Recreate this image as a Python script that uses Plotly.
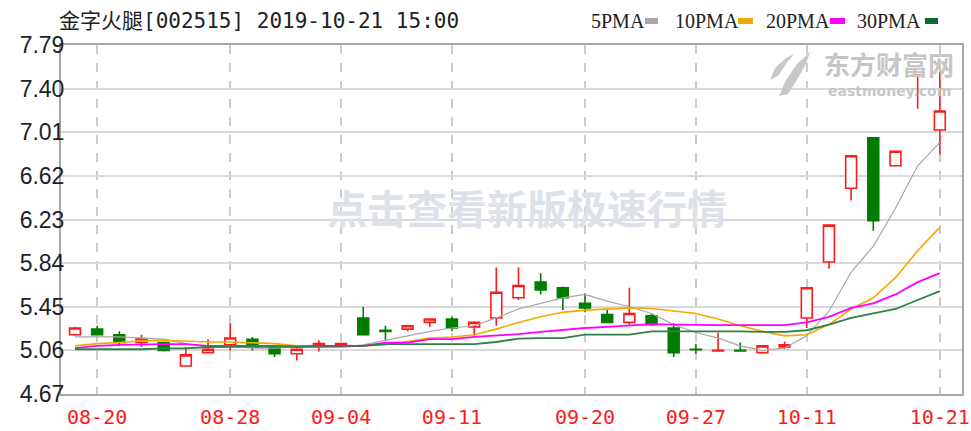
import plotly.graph_objects as go

dates = ["08-19","08-20","08-21","08-22","08-23","08-26","08-27","08-28","08-29","08-30",
         "09-02","09-03","09-04","09-05","09-06","09-09","09-10","09-11","09-12","09-16",
         "09-17","09-18","09-19","09-20","09-23","09-24","09-25","09-26","09-27","09-30",
         "10-08","10-09","10-10","10-11","10-14","10-15","10-16","10-17","10-18","10-21"]

opens  = [5.20,5.25,5.20,5.13,5.13,4.92,5.04,5.11,5.16,5.09,
          5.03,5.10,5.10,5.35,5.24,5.25,5.31,5.34,5.27,5.35,
          5.53,5.67,5.62,5.48,5.38,5.31,5.37,5.26,5.07,5.055,
          5.06,5.04,5.09,5.35,5.85,6.51,6.96,6.71,7.515,7.03]
highs  = [5.27,5.28,5.23,5.20,5.13,5.09,5.16,5.30,5.18,5.09,
          5.08,5.15,5.12,5.45,5.28,5.28,5.34,5.36,5.32,5.80,
          5.80,5.75,5.63,5.57,5.42,5.62,5.39,5.30,5.12,5.22,
          5.13,5.10,5.14,5.62,6.18,6.80,6.96,6.84,7.52,7.55]
lows   = [5.19,5.20,5.10,5.09,5.05,4.92,5.04,5.06,5.06,5.00,
          4.97,5.05,5.10,5.20,5.15,5.23,5.27,5.23,5.19,5.28,
          5.51,5.56,5.42,5.40,5.31,5.29,5.28,5.00,5.03,5.05,
          5.055,5.03,5.07,5.26,5.79,6.40,6.13,6.71,7.22,6.81]
closes = [5.26,5.20,5.13,5.165,5.06,5.02,5.07,5.17,5.10,5.03,
          5.07,5.12,5.12,5.20,5.23,5.28,5.34,5.26,5.31,5.58,
          5.64,5.60,5.53,5.44,5.31,5.39,5.29,5.04,5.065,5.06,
          5.055,5.10,5.11,5.62,6.18,6.80,6.22,6.84,7.52,7.20]

ma5  = [5.18,5.18,5.18,5.17,5.16,5.12,5.09,5.10,5.08,5.08,
        5.09,5.10,5.09,5.11,5.15,5.19,5.23,5.26,5.28,5.35,
        5.43,5.48,5.53,5.56,5.50,5.45,5.39,5.29,5.22,5.17,
        5.10,5.06,5.08,5.19,5.41,5.76,5.99,6.33,6.71,6.92]
ma10 = [5.10,5.12,5.13,5.145,5.15,5.14,5.135,5.135,5.13,5.12,
        5.10,5.09,5.09,5.10,5.11,5.14,5.17,5.18,5.20,5.25,
        5.31,5.36,5.40,5.42,5.43,5.44,5.435,5.41,5.39,5.34,
        5.28,5.23,5.19,5.20,5.29,5.43,5.53,5.71,5.95,6.16]
ma20 = [5.08,5.10,5.11,5.115,5.115,5.115,5.10,5.10,5.10,5.10,
        5.09,5.095,5.10,5.10,5.13,5.13,5.16,5.16,5.18,5.19,
        5.205,5.225,5.245,5.26,5.27,5.285,5.295,5.29,5.285,5.285,
        5.285,5.285,5.285,5.31,5.36,5.44,5.48,5.56,5.67,5.75]
ma30 = [5.07,5.07,5.07,5.07,5.077,5.077,5.09,5.09,5.09,5.09,
        5.095,5.10,5.10,5.10,5.115,5.115,5.115,5.115,5.115,5.135,
        5.165,5.17,5.17,5.20,5.20,5.20,5.23,5.23,5.23,5.235,
        5.23,5.226,5.225,5.24,5.29,5.35,5.39,5.43,5.51,5.59]

x_ticks = ["08-20","08-28","09-04","09-11","09-20","09-27","10-11","10-21"]
y_ticks = [4.67,5.06,5.45,5.84,6.23,6.62,7.01,7.40,7.79]

title_text = "金字火腿[002515] 2019-10-21 15:00"
legend_names = ["5PMA","10PMA","20PMA","30PMA"]
legend_colors = ["#a8a8a8","#f5a800","#ff00ff","#0b6b2e"]

W, H = 971, 431
L, R, T, B = 61, 962, 45, 394

def px(x):
    return (x - L) / (R - L)

def py(y):
    return (B - y) / (B - T)

fig = go.Figure()
fig.add_trace(go.Candlestick(
    x=dates, open=opens, high=highs, low=lows, close=closes,
    increasing=dict(line=dict(color="#ff1a1a", width=1.6), fillcolor="#ffffff"),
    decreasing=dict(line=dict(color="#007d00", width=1.6), fillcolor="#007d00"),
    whiskerwidth=0, showlegend=False, hoverinfo="skip"))

for name, vals, col, w in [("MA5", ma5, "#a8a8a8", 1.2), ("MA10", ma10, "#f5a800", 1.6),
                           ("MA20", ma20, "#ff00ff", 1.8), ("MA30", ma30, "#2e8048", 1.8)]:
    fig.add_trace(go.Scatter(x=dates, y=vals, mode="lines", name=name,
                             line=dict(color=col, width=w), showlegend=False, hoverinfo="skip"))

annotations = [
    dict(text=title_text, x=px(57), y=py(21), xref="paper", yref="paper",
         xanchor="left", yanchor="middle", showarrow=False,
         font=dict(family="DejaVu Sans Mono, Noto Sans CJK SC", size=21, color="#222222")),
    dict(text="点击查看新版极速行情", x=px(527), y=py(207), xref="paper", yref="paper",
         xanchor="center", yanchor="middle", showarrow=False,
         font=dict(family="Noto Sans CJK SC", size=40, color="#dde2e8", weight="bold")),
    dict(text="东方财富网", x=px(889), y=py(63), xref="paper", yref="paper",
         xanchor="center", yanchor="middle", showarrow=False,
         font=dict(family="Noto Sans CJK SC", size=26, color="#c6c6c6", weight="bold")),
    dict(text="eastmoney.com", x=px(889), y=py(91), xref="paper", yref="paper",
         xanchor="center", yanchor="middle", showarrow=False,
         font=dict(family="DejaVu Sans", size=14, color="#c6c6c6", weight="bold")),
]

shapes = []
leg_text_centers = [618, 707, 798, 889]
leg_sw = [(645, 658), (738, 753), (830, 845), (925, 938)]
for nm, col, cx, (s0, s1) in zip(legend_names, legend_colors, leg_text_centers, leg_sw):
    annotations.append(dict(text=nm, x=px(cx), y=py(21), xref="paper", yref="paper",
                            xanchor="center", yanchor="middle", showarrow=False,
                            font=dict(family="Liberation Serif", size=20, color="#222222")))
    shapes.append(dict(type="rect", xref="paper", yref="paper",
                       x0=px(s0), x1=px(s1), y0=py(24), y1=py(18),
                       fillcolor=col, line=dict(width=0)))

# eastmoney logo swoosh (decoration)
def pth(points):
    s = "M %f %f" % (px(points[0][0]), py(points[0][1]))
    for p in points[1:]:
        s += " L %f %f" % (px(p[0]), py(p[1]))
    return s + " Z"

shapes.append(dict(type="path", xref="paper", yref="paper",
                   path=pth([(779, 96), (786, 80), (797, 64), (810, 52), (806, 64), (798, 78), (788, 94)]),
                   fillcolor="#c8c8c8", line=dict(width=0)))
shapes.append(dict(type="path", xref="paper", yref="paper",
                   path=pth([(770, 80), (775, 68), (786, 58), (794, 54), (786, 64), (778, 76)]),
                   fillcolor="#c8c8c8", line=dict(width=0)))

fig.update_layout(
    width=W, height=H,
    margin=dict(l=L, r=W - R, t=T, b=H - B),
    paper_bgcolor="#ffffff", plot_bgcolor="#ffffff",
    showlegend=False,
    annotations=annotations,
    shapes=shapes,
    xaxis=dict(type="category", categoryorder="array", categoryarray=dates,
               range=[-0.63, 40.0], autorange=False, automargin=False,
               tickvals=x_ticks, ticktext=x_ticks,
               showgrid=True, gridcolor="#cccccc", griddash="dash", gridwidth=1.5,
               tickfont=dict(family="DejaVu Sans Mono", size=20, color="#ff1a1a"),
               showline=True, linecolor="#a8a8a8", linewidth=2, mirror=True,
               ticks="", ticklabelstandoff=4, zeroline=False, rangeslider=dict(visible=False),
               fixedrange=True),
    yaxis=dict(range=[4.67, 7.79], autorange=False, automargin=False, tickvals=y_ticks,
               ticktext=["%.2f" % v for v in y_ticks],
               showgrid=True, gridcolor="#d9d9d9", gridwidth=1.5,
               tickfont=dict(family="Liberation Sans", size=23, color="#1e1e28"),
               showline=True, linecolor="#a8a8a8", linewidth=2, mirror=True,
               ticks="", ticklabelstandoff=-10, zeroline=False, fixedrange=True),
)

fig.write_html("out.html", config={"displayModeBar": False},
               post_script="document.body.style.margin='0px';document.body.style.overflow='hidden';")
